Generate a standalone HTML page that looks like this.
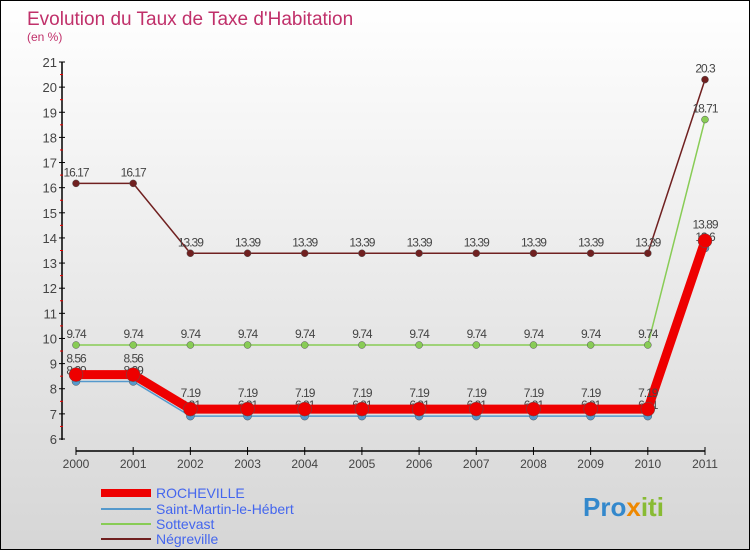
<!DOCTYPE html>
<html><head><meta charset="utf-8"><style>
body{margin:0}
#c{position:relative;width:748px;height:548px;border:1px solid #000;background:linear-gradient(#fff,#d6d6d6);font-family:"Liberation Sans",sans-serif;overflow:hidden}
</style></head><body>
<div id="c">
<svg id="s" width="748" height="548" xmlns="http://www.w3.org/2000/svg" font-family="Liberation Sans, sans-serif">
<text x="26" y="24" font-size="19" fill="#c0306a">Evolution du Taux de Taxe d'Habitation</text>
<text x="26" y="40" font-size="12" fill="#c0306a">(en %)</text>
<g id="axes"></g><g id="plot"></g>
<g>
<line x1="100" y1="492" x2="150" y2="492" stroke="#e00" stroke-width="8"/>
<text x="155" y="497" font-size="14" fill="#4466ee">ROCHEVILLE</text>
<line x1="100" y1="508" x2="150" y2="508" stroke="#5599cc" stroke-width="2"/>
<text x="155" y="513" font-size="14" fill="#4466ee">Saint-Martin-le-Hébert</text>
<line x1="100" y1="523" x2="150" y2="523" stroke="#88cc55" stroke-width="2"/>
<text x="155" y="528" font-size="14" fill="#4466ee">Sottevast</text>
<line x1="100" y1="538" x2="150" y2="538" stroke="#702020" stroke-width="2"/>
<text x="155" y="543" font-size="14" fill="#4466ee">Négreville</text>
</g>
<text x="582" y="515" font-size="26" font-weight="bold" fill="#3388cc">Pro<tspan fill="#ee8800">x</tspan><tspan fill="#88bb33">iti</tspan></text>
</svg></div>
<script>
const years=["2000","2001","2002","2003","2004","2005","2006","2007","2008","2009","2010","2011"];
const yTicks=[6,7,8,9,10,11,12,13,14,15,16,17,18,19,20,21];
const negreville=[16.17,16.17,13.39,13.39,13.39,13.39,13.39,13.39,13.39,13.39,13.39,20.3];
const sottevast=[9.74,9.74,9.74,9.74,9.74,9.74,9.74,9.74,9.74,9.74,9.74,18.71];
const stMartin=[8.29,8.29,6.91,6.91,6.91,6.91,6.91,6.91,6.91,6.91,6.91,13.6];
const rocheville=[8.56,8.56,7.19,7.19,7.19,7.19,7.19,7.19,7.19,7.19,7.19,13.89];
const NS="http://www.w3.org/2000/svg";
const x=i=>75+i*(629/(years.length-1));
const y=v=>438-(v-6)*(377/15);
function mk(t,a,p){const e=document.createElementNS(NS,t);for(const k in a)e.setAttribute(k,a[k]);(p||document.getElementById('plot')).appendChild(e);return e;}
const ax=document.getElementById('axes');
let l=mk('line',{x1:61,y1:y(21),x2:61,y2:y(6)+1,stroke:'#000','stroke-width':1.5},ax);


yTicks.forEach(v=>{
 mk('line',{x1:58,x2:64,y1:y(v),y2:y(v),stroke:'#000'},ax);
 if(v<21)mk('line',{x1:59,x2:62,y1:y(v+0.5),y2:y(v+0.5),stroke:'#e00'},ax);
 const t=mk('text',{x:56,y:y(v)+5,'font-size':13,fill:'#444','text-anchor':'end'},ax);t.textContent=v;
 
 
});
let xa=mk('line',{x1:x(0),x2:x(11),y1:450,y2:450,stroke:'#000','stroke-width':1.5},ax);


years.forEach((yr,i)=>{
 mk('line',{x1:x(i),x2:x(i),y1:446,y2:454,stroke:'#000'},ax);
 const t=mk('text',{x:x(i),y:467,'font-size':12,fill:'#444','text-anchor':'middle'},ax);t.textContent=yr;
 
 
});
function series(d,color,w,r,name,dy){
 const pts=d.map((v,i)=>x(i)+','+y(v)).join(' ');
 const p=mk('polyline',{points:pts,fill:'none',stroke:color,'stroke-width':w});
 
 
 d.forEach((v,i)=>{
  const c=mk('circle',{cx:x(i),cy:y(v),r:r,fill:color,stroke:'#555','stroke-width':0.5});
  
  
  const t=mk('text',{x:x(i),y:y(v)+dy,'font-size':12,fill:'#444','text-anchor':'middle','letter-spacing':'-1'});t.textContent=v;
  
  
 });
}
series(negreville,'#702020',1.5,3.5,'negreville',-7);
series(sottevast,'#88cc55',1.5,3.5,'sottevast',-7);
series(stMartin,'#5599cc',1.5,4,'saint-martin',-7);
series(rocheville,'#e00',9,7,'rocheville',-12);
</script>
</body></html>
